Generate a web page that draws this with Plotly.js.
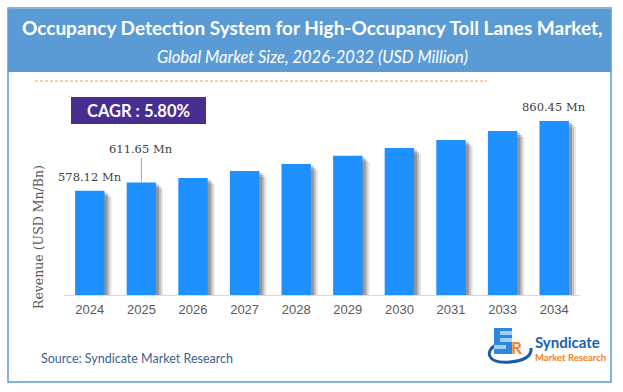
<!DOCTYPE html>
<html>
<head>
<meta charset="utf-8">
<script src="https://cdn.plot.ly/plotly-3.0.1.min.js"></script>
<style>html,body{margin:0;padding:0;background:#fff;}#chart{width:623px;height:392px;}</style>
</head>
<body>
<div id="chart"></div>
<script>
// ---- data ----
var years = ['2024','2025','2026','2027','2028','2029','2030','2031','2033','2034'];
var revenue = [578.12, 611.65, 629.6, 657.9, 686.3, 719.9, 751.1, 783.5, 819.9, 860.45];
var labelledIdx = [0, 1, 9];
var titleText = 'Occupancy Detection System for High-Occupancy Toll Lanes Market,';
var subtitleText = 'Global Market Size, 2026-2032 (USD Million)';
var cagrText = 'CAGR : 5.80%';
var yTitle = 'Revenue (USD Mn/Bn)';
var sourceText = 'Source: Syndicate Market Research';

// ---- geometry helpers (plot area: x 64..580, y 100..295 px) ----
var L = 64, R = 580, T = 100, B = 295;
function px(x){ return (x - L) / (R - L); }
function py(y){ return (B - y) / (B - T); }
var pxPerUnitX = (R - L) / years.length;
var yRange = [155.7, 945.5];
var unitsPerPxY = (yRange[1] - yRange[0]) / (B - T);
var barW = 0.57;

var traces = [];
[[3,2,0.22],[5,4,0.16],[7,6,0.10]].forEach(function(s){
  traces.push({
    type:'bar', x: years,
    y: revenue.map(function(v){ return v - s[1]*unitsPerPxY - yRange[0]; }),
    base: yRange[0],
    width: barW, offset: -barW/2 + s[0]/pxPerUnitX,
    marker:{color:'rgba(0,0,0,'+s[2]+')', line:{width:0}},
    hoverinfo:'skip', showlegend:false
  });
});
traces.push({
  type:'bar', x: years, y: revenue.map(function(v){return v - yRange[0];}), base: yRange[0],
  width: barW, offset: -barW/2,
  marker:{color:'#1e90ff', line:{width:0}},
  hoverinfo:'skip', showlegend:false
});

var annotations = [
  {xref:'paper', yref:'paper', x:px(312), y:py(27), text:'<b>'+titleText+'</b>', showarrow:false,
   font:{family:'Lato', size:19, color:'#ffffff'}, xanchor:'center', yanchor:'middle'},
  {xref:'paper', yref:'paper', x:px(312), y:py(57), text:'<i>'+subtitleText+'</i>', showarrow:false,
   font:{family:'Lato', size:16.5, color:'#ffffff'}, xanchor:'center', yanchor:'middle'},
  {xref:'paper', yref:'paper', x:px(138.5), y:py(110.5), text:'<b>'+cagrText+'</b>', showarrow:false,
   font:{family:'Lato', size:16.5, color:'#ffffff'}, xanchor:'center', yanchor:'middle'},
  {xref:'paper', yref:'paper', x:px(38), y:py(237), text:yTitle, textangle:-90, showarrow:false,
   font:{family:'DejaVu Serif', size:12.5, color:'#595959'}, xanchor:'center', yanchor:'middle'},
  {xref:'paper', yref:'paper', x:px(39), y:py(358), text:sourceText, showarrow:false,
   font:{family:'Lato', size:12.5, color:'#3d5f8f'}, xanchor:'left', yanchor:'middle'},
  {xref:'paper', yref:'paper', x:px(533), y:py(342), text:'<b>Syndicate</b>', showarrow:false,
   font:{family:'Lato', size:15, color:'#1b5fb0'}, xanchor:'left', yanchor:'middle'},
  {xref:'paper', yref:'paper', x:px(533), y:py(357), text:'<b>Market Research</b>', showarrow:false,
   font:{family:'Lato', size:9.5, color:'#f5821f'}, xanchor:'left', yanchor:'middle'},
  {xref:'paper', yref:'paper', x:px(516), y:py(347), text:'<b>R</b>', showarrow:false,
   font:{family:'Lato', size:17, color:'#f5821f'}, xanchor:'center', yanchor:'middle'}
];
labelledIdx.forEach(function(i){
  var lbl = revenue[i].toFixed(2) + ' Mn';
  if (i === 1) {
    annotations.push({x:i, y:revenue[i], xref:'x', yref:'y', text:lbl, showarrow:true,
      arrowhead:0, arrowwidth:1, arrowcolor:'#a6a6a6', ax:0, ay:-33, standoff:0,
      font:{family:'DejaVu Serif', size:11.5, color:'#404040'}});
  } else {
    annotations.push({x:i, y:revenue[i], xref:'x', yref:'y', text:lbl, showarrow:false,
      yshift:14, yanchor:'middle', font:{family:'DejaVu Serif', size:11.5, color:'#404040'}});
  }
});

var shapes = [
  {type:'rect', xref:'paper', yref:'paper', x0:px(8), x1:px(611), y0:py(9), y1:py(72),
   fillcolor:'#5b9bd5', line:{width:0}, layer:'below'},
  {type:'rect', xref:'paper', yref:'paper', x0:px(8), x1:px(611), y0:py(8), y1:py(382),
   fillcolor:'rgba(0,0,0,0)', line:{color:'#5b9bd5', width:1.5}},
  {type:'line', xref:'paper', yref:'paper', x0:px(35), x1:px(487), y0:py(81), y1:py(81),
   line:{color:'#f29a5c', width:1.2, dash:'3px,2px'}},
  {type:'rect', xref:'paper', yref:'paper', x0:px(71), x1:px(206), y0:py(97), y1:py(124),
   fillcolor:'#482e91', line:{width:0}},
  // logo swoosh
  {type:'path', xref:'paper', yref:'paper',
   path:'M '+px(498)+','+py(344)+' C '+px(484)+','+py(350)+' '+px(486)+','+py(364)+' '+px(510)+','+py(362)+' C '+px(524)+','+py(361)+' '+px(532)+','+py(356)+' '+px(531)+','+py(348),
   line:{color:'#1b5aa8', width:3}},
  {type:'rect', xref:'paper', yref:'paper', x0:px(494), x1:px(512), y0:py(328), y1:py(354),
   fillcolor:'#2e86de', line:{width:0}},
  {type:'rect', xref:'paper', yref:'paper', x0:px(500), x1:px(512), y0:py(331), y1:py(335),
   fillcolor:'#9fd0f5', line:{width:0}},
  {type:'rect', xref:'paper', yref:'paper', x0:px(500), x1:px(512), y0:py(338), y1:py(342),
   fillcolor:'#9fd0f5', line:{width:0}},
  {type:'rect', xref:'paper', yref:'paper', x0:px(494), x1:px(506), y0:py(345), y1:py(349),
   fillcolor:'#9fd0f5', line:{width:0}}
];

var layout = {
  width:623, height:392,
  margin:{l:L, r:623-R, t:T, b:392-B, pad:0},
  paper_bgcolor:'#ffffff', plot_bgcolor:'#ffffff',
  barmode:'overlay',
  showlegend:false,
  hovermode:false,
  xaxis:{type:'category', range:[-0.5, years.length-0.5], autorange:false,
    showline:true, linecolor:'#d9d9d9', linewidth:1, showgrid:false,
    zeroline:false, ticks:'', ticklabelstandoff:2,
    tickfont:{family:'Liberation Sans', size:13, color:'#595959'}, fixedrange:true},
  yaxis:{range:yRange, autorange:false, visible:false, showgrid:false, zeroline:false, fixedrange:true},
  annotations:annotations,
  shapes:shapes
};

Plotly.newPlot('chart', traces, layout, {displayModeBar:false, staticPlot:true});
</script>
</body>
</html>
